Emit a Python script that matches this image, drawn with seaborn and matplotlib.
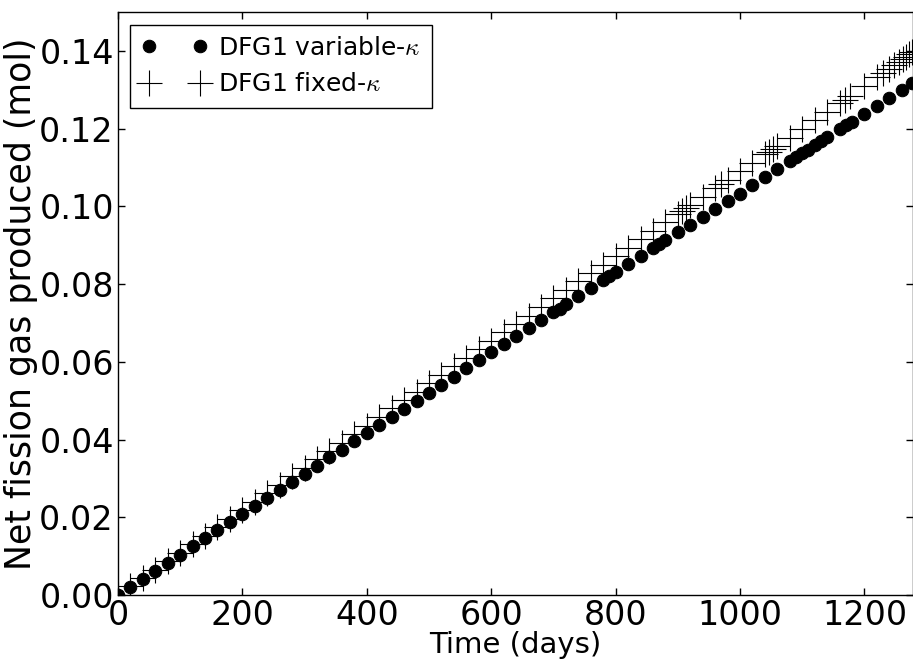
import matplotlib
matplotlib.use("Agg")
import matplotlib.pyplot as plt
import seaborn as sns
import pandas as pd
from matplotlib.ticker import FormatStrFormatter

# Data
t_var = [0, 20, 40, 60, 80, 100, 120, 140, 160, 180, 200, 220, 240, 260, 280,
         300, 320, 340, 360, 380, 400, 420, 440, 460, 480, 500, 520, 540, 560,
         580, 600, 620, 640, 660, 680, 700, 710, 720, 740, 760, 780, 790, 800,
         820, 840, 860, 870, 880, 900, 920, 940, 960, 980, 1000, 1020, 1040,
         1060, 1080, 1090, 1100, 1110, 1120, 1130, 1140, 1160, 1170, 1180, 1200,
         1220, 1240, 1260, 1276]
gas_var = [0.0000, 0.0021, 0.0042, 0.0062, 0.0083, 0.0104, 0.0125, 0.0146,
           0.0166, 0.0187, 0.0208, 0.0229, 0.0250, 0.0270, 0.0291, 0.0312,
           0.0333, 0.0354, 0.0374, 0.0395, 0.0417, 0.0437, 0.0458, 0.0478,
           0.0499, 0.0520, 0.0541, 0.0562, 0.0583, 0.0604, 0.0625, 0.0645,
           0.0666, 0.0686, 0.0707, 0.0727, 0.0737, 0.0748, 0.0768, 0.0789,
           0.0810, 0.0820, 0.0830, 0.0851, 0.0872, 0.0893, 0.0903, 0.0913,
           0.0934, 0.0953, 0.0973, 0.0993, 0.1013, 0.1033, 0.1054, 0.1075,
           0.1095, 0.1116, 0.1126, 0.1136, 0.1146, 0.1157, 0.1167, 0.1178,
           0.1198, 0.1208, 0.1218, 0.1238, 0.1259, 0.1279, 0.1300, 0.1318]

t_fix = [0, 20, 40, 60, 80, 100, 120, 140, 160, 180, 200, 220, 240, 260, 280,
         300, 320, 340, 360, 380, 400, 420, 440, 460, 480, 500, 520, 540, 560,
         580, 600, 620, 640, 660, 680, 700, 720, 740, 760, 780, 800, 820, 840,
         860, 880, 900, 907, 913, 920, 940, 960, 970, 980, 1000, 1020, 1040,
         1047, 1053, 1060, 1080, 1100, 1120, 1140, 1160, 1168, 1176, 1200, 1220,
         1230, 1240, 1248, 1256, 1262, 1267, 1272, 1277]
gas_fix = [0.0000, 0.0022, 0.0044, 0.0065, 0.0087, 0.0109, 0.0131, 0.0153,
           0.0174, 0.0196, 0.0218, 0.0240, 0.0262, 0.0283, 0.0305, 0.0327,
           0.0349, 0.0371, 0.0392, 0.0414, 0.0436, 0.0458, 0.0480, 0.0501,
           0.0523, 0.0545, 0.0567, 0.0589, 0.0610, 0.0632, 0.0654, 0.0676,
           0.0698, 0.0719, 0.0741, 0.0763, 0.0785, 0.0807, 0.0828, 0.0850,
           0.0872, 0.0894, 0.0916, 0.0937, 0.0959, 0.0981, 0.0989, 0.0995,
           0.1003, 0.1025, 0.1046, 0.1057, 0.1068, 0.1090, 0.1112, 0.1134,
           0.1141, 0.1148, 0.1155, 0.1177, 0.1199, 0.1221, 0.1243, 0.1265,
           0.1274, 0.1283, 0.1310, 0.1332, 0.1343, 0.1354, 0.1363, 0.1372,
           0.1379, 0.1385, 0.1391, 0.1397]

x_ticks = [0, 200, 400, 600, 800, 1000, 1200]
y_ticks = [0.00, 0.02, 0.04, 0.06, 0.08, 0.10, 0.12, 0.14]

df_var = pd.DataFrame({"time": t_var, "gas": gas_var})
df_fix = pd.DataFrame({"time": t_fix, "gas": gas_fix})

sns.set_style("ticks")
plt.rcParams["font.family"] = ["DejaVu Sans"]
plt.rcParams["mathtext.fontset"] = "cm"
plt.rcParams.update({"text.color": "black", "axes.labelcolor": "black",
                     "xtick.color": "black", "ytick.color": "black"})

fig = plt.figure(figsize=(9.13, 6.67), dpi=100)
ax = fig.add_axes([0.1292, 0.108, 0.8708, 0.874])

sns.lineplot(data=df_var, x="time", y="gas", ax=ax, linestyle="", marker="o",
             markersize=9, color="black", markeredgecolor="black",
             label=r"DFG1 variable-$\kappa$")
sns.lineplot(data=df_fix, x="time", y="gas", ax=ax, linestyle="", marker="+",
             markersize=19, markeredgewidth=0.8, color="black",
             markeredgecolor="black", label=r"DFG1 fixed-$\kappa$")

ax.set_xlim(0, 1278)
ax.set_ylim(0, 0.15)
ax.set_xticks(x_ticks)
ax.set_yticks(y_ticks)
ax.yaxis.set_major_formatter(FormatStrFormatter("%.2f"))
ax.tick_params(direction="in", length=5, width=1, labelsize=24, top=True,
               right=True, pad=3)
for sp in ax.spines.values():
    sp.set_color("black")
    sp.set_linewidth(1)

ax.set_xlabel("Time (days)", fontsize=21, labelpad=-1)
ax.set_ylabel("Net fission gas produced (mol)", fontsize=25, labelpad=1)

leg = ax.legend(loc="upper left", numpoints=2, fontsize=18, fancybox=False,
                frameon=True, handlelength=2.65, borderaxespad=0.5,
                handletextpad=0.4, borderpad=0.45, labelspacing=0.5)
leg.get_frame().set_edgecolor("black")
leg.get_frame().set_linewidth(1)
leg.get_frame().set_alpha(1)

fig.savefig("out.png", dpi=100)
